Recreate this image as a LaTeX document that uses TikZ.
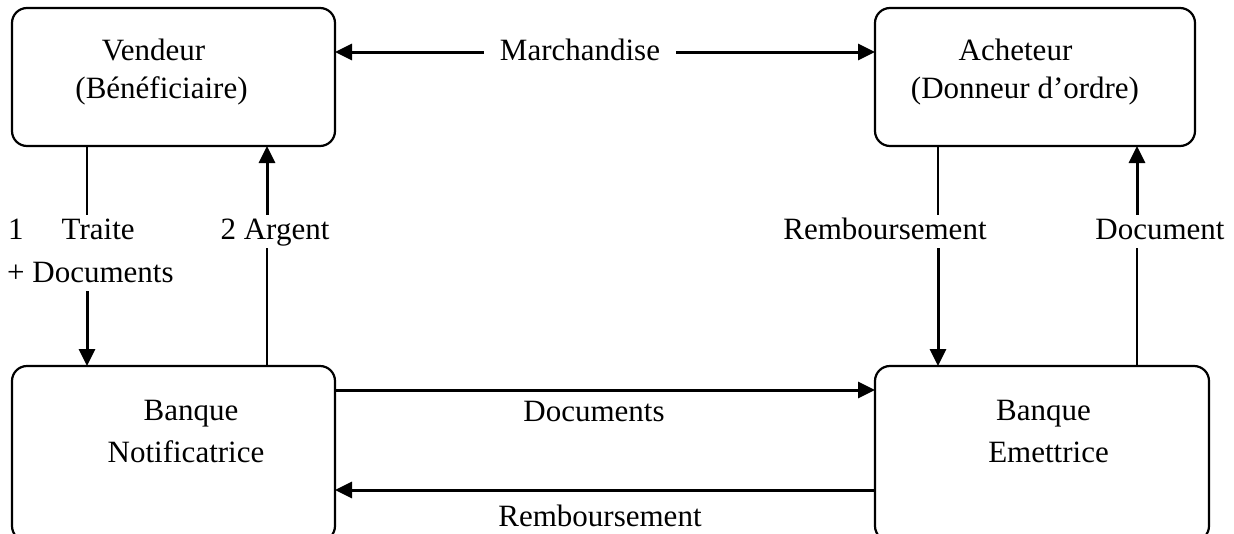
\documentclass[tikz,border=0pt]{standalone}
\usepackage{fontspec}
\setmainfont{Liberation Serif}
\usetikzlibrary{arrows.meta}

\begin{document}
\begin{tikzpicture}[x=1pt,y=-1pt,
  font=\fontsize{31}{42}\selectfont,
  party/.style={draw=black,line width=2.2pt,rounded corners=15pt,
    inner sep=0pt,outer sep=0pt},
  txt/.style={anchor=base,inner sep=0pt},
  lbl/.style={anchor=base,inner xsep=16pt,inner ysep=3pt,
    text height=21pt,text depth=6pt},
  plainline/.style={line width=1.9pt},
  flow/.style={line width=3pt,-{Triangle[length=17pt,width=16pt]}}
]
\useasboundingbox (0,0) rectangle (1234,533);
\clip (0,0) rectangle (1234,533);

% the four parties
\node[party,minimum width=323pt,minimum height=138pt] (vend) at (173.5,77) {};
\node[party,minimum width=320pt,minimum height=138pt] (ach)  at (1035,77) {};
\node[party,minimum width=323pt,minimum height=175pt] (bnot) at (173.5,453.5) {};
\node[party,minimum width=334pt,minimum height=175pt] (bemt) at (1042,453.5) {};

% names inside the boxes
\node[txt] (vend1) at (153.5,60) {Vendeur};
\node[txt] (vend2) at (161.5,98) {(Bénéficiaire)};
\node[txt] (ach1) at (1015.5,60) {Acheteur};
\node[txt] (ach2) at (1025,98) {(Donneur d’ordre)};
\node[txt] (bnot1) at (191,420) {Banque};
\node[txt] (bnot2) at (186,462) {Notificatrice};
\node[txt] (bemt1) at (1043.5,420) {Banque};
\node[txt] (bemt2) at (1048.5,462) {Emettrice};

% column and row positions of the flows
\coordinate (colA) at (87,0);
\coordinate (colB) at (267,0);
\coordinate (colC) at (938,0);
\coordinate (colD) at (1137,0);
\coordinate (mY) at (0,52);
\coordinate (dY) at (0,390);
\coordinate (rY) at (0,490);

% flow labels
\node[lbl,anchor=base west,inner xsep=0pt] (traite) at (8,239)
  {1\hspace{38pt}Traite};
\node[lbl,anchor=base west,inner xsep=0pt] (traite2) at (7,282)
  {+ Documents};
\node[lbl] (argent) at (275,239) {2 Argent};
\node[lbl] (remb) at (885,239) {Remboursement};
\node[lbl] (docu) at (1160,239) {Document};
\node[lbl] (march) at (580,60) {Marchandise};
\node[txt] (docs) at (594,421) {Documents};
\node[txt] (rembb) at (600,526) {Remboursement};

% goods between seller and buyer
\draw[flow] (march.west |- mY) -- (vend.east |- mY);
\draw[flow] (march.east |- mY) -- (ach.west |- mY);

% seller side
\draw[plainline] (vend.south -| colA) -- (traite.north -| colA);
\draw[flow] (traite2.south -| colA) -- (bnot.north -| colA);
\draw[plainline] (bnot.north -| colB) -- (argent.south -| colB);
\draw[flow] (argent.north -| colB) -- (vend.south -| colB);

% buyer side
\draw[plainline] (ach.south -| colC) -- (remb.north -| colC);
\draw[flow] (remb.south -| colC) -- (bemt.north -| colC);
\draw[plainline] (bemt.north -| colD) -- (docu.south -| colD);
\draw[flow] (docu.north -| colD) -- (ach.south -| colD);

% between the banks
\draw[flow] (bnot.east |- dY) -- (bemt.west |- dY);
\draw[flow] (bemt.west |- rY) -- (bnot.east |- rY);
\end{tikzpicture}
\end{document}
